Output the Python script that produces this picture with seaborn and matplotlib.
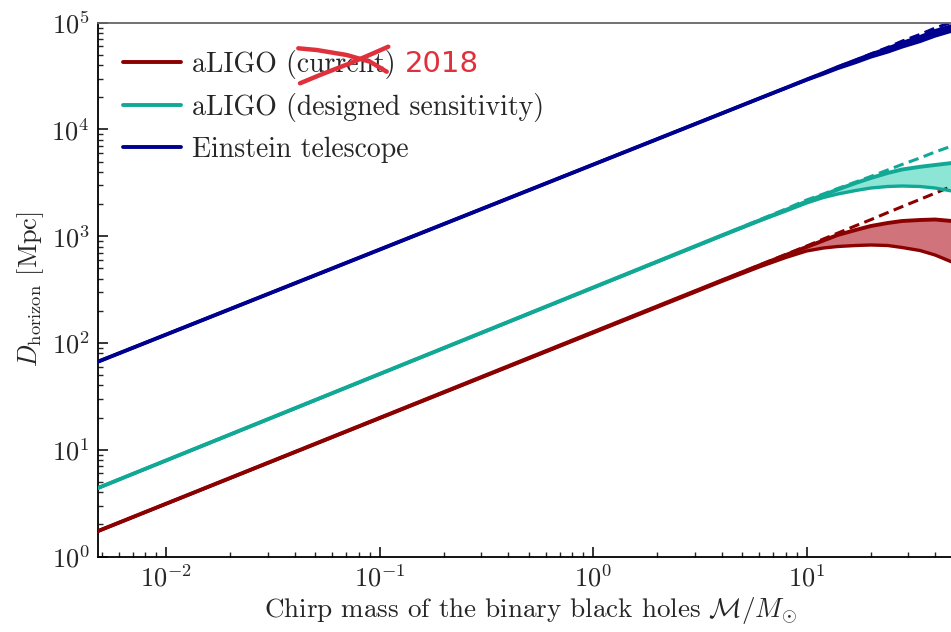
import numpy as np
import pandas as pd
import matplotlib
matplotlib.use("Agg")
import matplotlib.pyplot as plt
from matplotlib.lines import Line2D
import matplotlib.ticker as mticker
import seaborn as sns

# ---------------- data ----------------
mass = [0.0048, 4, 6, 8, 10, 12, 14, 17, 20, 24, 28, 34, 40, 48]

et_upper = [66.8, 14110, 19500, 24510, 29310, 33800, 38380, 44440, 50370, 57310, 64540, 73450, 83600, 93140]
et_lower = [66.8, 14110, 19500, 24400, 29060, 33080, 37240, 42390, 47720, 53170, 59210, 66680, 75070, 83600]
et_dashed = [66.8, 14110, 19500, 24510, 29310, 33800, 38380, 44630, 50920, 58690, 67110, 77540, 89000, 101300]

design_upper = [4.38, 1016, 1404, 1761, 2115, 2433, 2739, 3152, 3510, 3910, 4217, 4469, 4646, 4852]
design_lower = [4.38, 1005, 1388, 1723, 2047, 2305, 2486, 2681, 2829, 2922, 2954, 2922, 2829, 2652]
design_dashed = [4.38, 1016, 1419, 1799, 2184, 2486, 2799, 3221, 3626, 4173, 4696, 5405, 6151, 7000]

current_upper = [1.73, 384.7, 531.7, 667, 792.5, 911.7, 1027, 1144, 1246, 1330, 1388, 1419, 1434, 1388]
current_lower = [1.73, 376.6, 514.8, 632.1, 727.1, 775.5, 801.1, 818.7, 827.6, 818.7, 784.1, 735.0, 667.1, 573.6]
current_dashed = [1.73, 384.7, 535.2, 675.5, 808.0, 941.8, 1069, 1254, 1428, 1665, 1890, 2213, 2529, 2941]

labels = ["aLIGO (current)", "aLIGO (designed sensitivity)", "Einstein telescope"]
line_colors = ["#8B0000", "#12A896", "#00008F"]
fill_colors = ["#D0737A", "#8DE5D6", "#00008F"]

uppers = [current_upper, design_upper, et_upper]
lowers = [current_lower, design_lower, et_lower]
dasheds = [current_dashed, design_dashed, et_dashed]

df = pd.concat(
    [pd.DataFrame({"M": mass, "D": u, "detector": lab}) for u, lab in zip(uppers, labels)],
    ignore_index=True,
)

# ---------------- style ----------------
sns.set_style("ticks")
plt.rcParams.update({
    "font.family": "serif",
    "font.serif": ["cmr10", "DejaVu Serif"],
    "mathtext.fontset": "cm",
    "axes.unicode_minus": False,
    "axes.formatter.use_mathtext": True,
    "xtick.direction": "in",
    "ytick.direction": "in",
})

W, H = 951, 632
fig = plt.figure(figsize=(W / 100, H / 100), dpi=100)
ax = fig.add_axes([98 / W, 1 - 556.5 / H, (962 - 98) / W, (556.5 - 22.7) / H])

# fills + lower boundaries + dashed extrapolations
for up, lo, da, lc, fc in zip(uppers, lowers, dasheds, line_colors, fill_colors):
    ax.fill_between(mass, lo, up, color=fc, lw=0, zorder=1)
    ax.plot(mass, lo, color=lc, lw=2.4, zorder=3, solid_joinstyle="round")
    ax.plot(mass, da, color=lc, lw=2.2, dashes=(3.4, 1.8), zorder=2)

sns.lineplot(data=df, x="M", y="D", hue="detector", hue_order=labels,
             palette=line_colors, estimator=None, sort=False, lw=2.8,
             ax=ax, zorder=4, legend=False)
for ln in ax.lines:
    ln.set_solid_joinstyle("round")

ax.set_xscale("log")
ax.set_yscale("log")
ax.set_xlim(0.004802, 53.5)
ax.set_ylim(1, 1e5)

fmt = mticker.FuncFormatter(lambda v, p: r"$\mathrm{10^{%d}}$" % round(np.log10(v)))
ax.xaxis.set_major_locator(mticker.LogLocator(base=10, numticks=20))
ax.yaxis.set_major_locator(mticker.LogLocator(base=10, numticks=20))
ax.xaxis.set_minor_locator(mticker.LogLocator(base=10, subs=np.arange(2, 10), numticks=50))
ax.yaxis.set_minor_locator(mticker.LogLocator(base=10, subs=np.arange(2, 10), numticks=50))
ax.xaxis.set_minor_formatter(mticker.NullFormatter())
ax.yaxis.set_minor_formatter(mticker.NullFormatter())
ax.xaxis.set_major_formatter(fmt)
ax.yaxis.set_major_formatter(fmt)

ax.tick_params(which="major", length=7.5, width=1.1, labelsize=19, pad=6,
               top=False, right=False, color="black")
ax.tick_params(which="minor", length=3.8, width=1.0, top=False, right=False)

for s in ["left", "bottom"]:
    ax.spines[s].set_color("black")
    ax.spines[s].set_linewidth(1.3)
ax.spines["top"].set_color("#666666")
ax.spines["top"].set_linewidth(1.3)
ax.spines["right"].set_visible(False)

ax.set_xlabel(r"Chirp mass of the binary black holes $\mathcal{M}/M_{\odot}$",
              fontsize=19.5, labelpad=2)
ax.set_ylabel(r"$D_{\rm horizon}$ [Mpc]", fontsize=19, labelpad=4)

handles = [Line2D([0], [0], color=c, lw=2.8) for c in line_colors]
ax.legend(handles, labels, loc="upper left", bbox_to_anchor=(25 / 864, 1 - 27 / 533.8),
          frameon=False, fontsize=20, handlelength=2.1, handletextpad=0.4,
          labelspacing=0.52, borderaxespad=0, borderpad=0)

# hand-written annotation (strike-out + new year)
red = "#E0303C"
s1x = [298.3, 316.7, 346.7, 370.0, 386.7]
s1y = [48.3, 50.0, 55.0, 61.7, 71.7]
s2x = [300.0, 320.0, 350.0, 373.3, 388.3]
s2y = [83.3, 75.0, 63.3, 53.3, 46.7]
for xs, ys in [(s1x, s1y), (s2x, s2y)]:
    fig.add_artist(Line2D([x / W for x in xs], [1 - y / H for y in ys],
                          transform=fig.transFigure, color=red, lw=3.2,
                          solid_capstyle="round", solid_joinstyle="round", zorder=10))
fig.text(405 / W, 1 - 64 / H, "2018", color=red, fontsize=21,
         family="DejaVu Sans", va="center", ha="left")

fig.savefig("out.png", dpi=100)
